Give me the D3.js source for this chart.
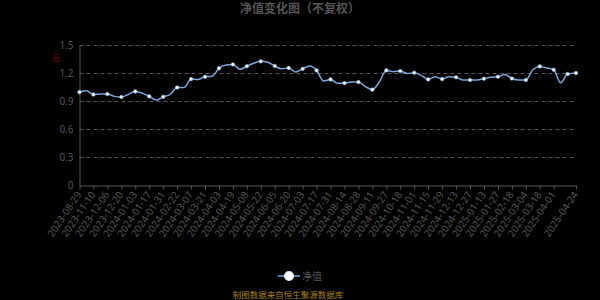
<!DOCTYPE html>
<html>
<head>
<meta charset="utf-8">
<script src="https://cdn.jsdelivr.net/npm/d3@7"></script>
<style>
  body { margin: 0; background: #000; }
</style>
</head>
<body>
<div id="chart"></div>
<script>
// tick labels on the category axis (every 10 trading days, plus the last day)
const tickLabels = [
  "2023-08-29", "2023-11-10", "2023-12-06", "2023-12-20", "2024-01-03", "2024-01-17",
  "2024-01-31", "2024-02-22", "2024-03-07", "2024-03-21", "2024-04-03", "2024-04-19",
  "2024-05-08", "2024-05-22", "2024-06-05", "2024-06-20", "2024-07-03", "2024-07-17",
  "2024-07-31", "2024-08-14", "2024-08-28", "2024-09-11", "2024-09-27", "2024-10-18",
  "2024-11-01", "2024-11-15", "2024-11-29", "2024-12-13", "2024-12-27", "2025-01-13",
  "2025-01-27", "2025-02-18", "2025-03-04", "2025-03-18", "2025-04-01", "2025-04-24"
];
const lastDay = 356;   // index of the last trading day
const step = 5;        // nav values are sampled every 5 trading days

// net value (days 0,5,...,350 and the last day)
const navValues = [
  1.00, 1.015, 0.975, 0.98, 0.98, 0.955, 0.948, 0.975, 1.008, 0.99,
  0.955, 0.915, 0.95, 0.975, 1.05, 1.05, 1.14, 1.135, 1.165, 1.17,
  1.255, 1.29, 1.297, 1.245, 1.278, 1.31, 1.33, 1.32, 1.28, 1.25,
  1.26, 1.215, 1.25, 1.28, 1.233, 1.12, 1.137, 1.095, 1.097, 1.11,
  1.108, 1.06, 1.027, 1.11, 1.233, 1.22, 1.226, 1.20, 1.208, 1.18,
  1.137, 1.165, 1.14, 1.165, 1.16, 1.13, 1.13, 1.13, 1.144, 1.16,
  1.165, 1.19, 1.146, 1.13, 1.13, 1.24, 1.276, 1.26, 1.24, 1.10,
  1.195, 1.205
];
const yTicks = [0, 0.3, 0.6, 0.9, 1.2, 1.5];

const W = 600, H = 300,
  grey = "#555",
  lineBlue = "#7aa6dc";

const data = navValues.map((v, i) => ({
  day: i < navValues.length - 1 ? i * step : lastDay,
  value: v
}));
const tickDays = tickLabels.map((d, i) => (i < tickLabels.length - 1 ? i * 10 : lastDay));

const svg = d3.select("#chart").append("svg").attr("width", W).attr("height", H)
  .style("background", "#000");

const x = d3.scaleLinear().domain([0, lastDay]).range([79.5, 576]);
const y = d3.scaleLinear().domain([0, 1.5]).range([185.5, 45.5]);

// title
svg.append("text")
  .attr("x", 300).attr("y", 13)
  .attr("text-anchor", "middle")
  .style("font-family", "'Noto Sans CJK SC'")
  .style("font-size", "12px").style("font-weight", "bold")
  .style("fill", grey)
  .text("净值变化图（不复权）");

// unit
svg.append("text")
  .attr("x", 56).attr("y", 61)
  .attr("text-anchor", "middle")
  .style("font-family", "'Noto Sans CJK SC'")
  .style("font-size", "8px")
  .style("fill", "#8b0000")
  .text("元");

// grid lines
svg.append("g")
  .selectAll("line")
  .data(yTicks.filter((d) => d > 0))
  .enter()
  .append("line")
  .attr("x1", x(0)).attr("x2", x(lastDay))
  .attr("y1", (d) => y(d)).attr("y2", (d) => y(d))
  .style("stroke", grey).style("stroke-dasharray", "4,3");

// y axis
const yAxis = svg.append("g")
  .attr("transform", "translate(" + x(0) + ",0)")
  .call(d3.axisLeft(y).tickValues(yTicks).tickSize(0).tickPadding(6).tickFormat(d3.format("")));
yAxis.select(".domain").style("stroke", grey);
yAxis.selectAll("text")
  .style("fill", grey).style("font-family", "'Noto Sans'").style("font-size", "10px");

// x axis
const xAxis = svg.append("g")
  .attr("transform", "translate(0," + y(0) + ")")
  .call(d3.axisBottom(x).tickValues(tickDays).tickSize(4).tickSizeOuter(0)
    .tickFormat((d, i) => tickLabels[i]));
xAxis.select(".domain").style("stroke", grey);
xAxis.selectAll(".tick line").style("stroke", grey);
xAxis.selectAll("text")
  .attr("x", 0).attr("y", 0).attr("dy", "0.35em")
  .attr("transform", "translate(-1,7) rotate(-56)")
  .style("text-anchor", "end")
  .style("fill", grey).style("font-family", "'Noto Sans'").style("font-size", "10px");

// line
const line = d3.line()
  .x((d) => x(d.day))
  .y((d) => y(d.value))
  .curve(d3.curveMonotoneX);

svg.append("path")
  .datum(data)
  .attr("d", line)
  .style("fill", "none")
  .style("stroke", lineBlue)
  .style("stroke-width", 1.5);

// symbols every 10 days and on the last day
svg.append("g")
  .selectAll("circle")
  .data(data.filter((d) => d.day % 10 === 0 || d.day === lastDay))
  .enter()
  .append("circle")
  .attr("cx", (d) => x(d.day))
  .attr("cy", (d) => y(d.value))
  .attr("r", 1.8)
  .style("fill", "#fff")
  .style("stroke", lineBlue)
  .style("stroke-width", 0.6);

// legend
const legend = svg.append("g").attr("transform", "translate(289,276)");
legend.append("line")
  .attr("x1", -11).attr("x2", 11)
  .style("stroke", lineBlue).style("stroke-width", 1.5);
legend.append("circle")
  .attr("r", 4.5)
  .style("fill", "#fff")
  .style("stroke", "#cfe0ff").style("stroke-width", 1.2);
legend.append("text")
  .attr("x", 13).attr("y", 0).attr("dy", "0.35em")
  .style("font-family", "'Noto Sans CJK SC'")
  .style("font-size", "10px")
  .style("fill", grey)
  .text("净值");

// source note
svg.append("text")
  .attr("x", 288).attr("y", 298)
  .attr("text-anchor", "middle")
  .style("font-family", "'Noto Sans CJK SC'")
  .style("font-size", "8.5px")
  .style("fill", "#a8801a")
  .text("制图数据来自恒生聚源数据库");
</script>
</body>
</html>
